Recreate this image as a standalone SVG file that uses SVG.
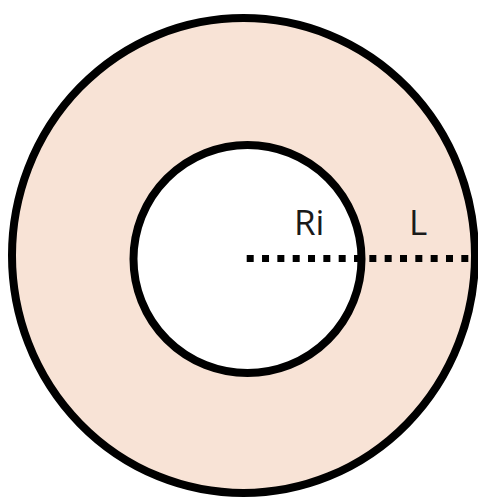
<svg xmlns="http://www.w3.org/2000/svg" width="478" height="501" viewBox="0 0 478 501">
  <style>
    .ring { stroke: #000; stroke-width: 8; }
    .lbl { font-family: "Open Sans", "Noto Sans", "Liberation Sans", sans-serif; font-size: 35px; fill: #1a1a1a; }
    .dots { stroke: #000; stroke-width: 7; stroke-dasharray: 7 8.33; fill: none; }
  </style>
  <rect width="478" height="501" fill="#ffffff"/>
  <g id="outer">
    <ellipse class="ring" cx="243.5" cy="255.5" rx="231.5" ry="237.5" fill="#f8e3d6"/>
  </g>
  <g id="inner">
    <circle class="ring" cx="247.5" cy="259" r="114" fill="#ffffff"/>
  </g>
  <g id="connectors">
    <line class="dots" x1="246.7" y1="258.5" x2="471" y2="258.5"/>
  </g>
  <g id="label-ri">
    <text class="lbl" x="294" y="235">Ri</text>
  </g>
  <g id="label-l">
    <text class="lbl" x="409" y="235">L</text>
  </g>
</svg>
